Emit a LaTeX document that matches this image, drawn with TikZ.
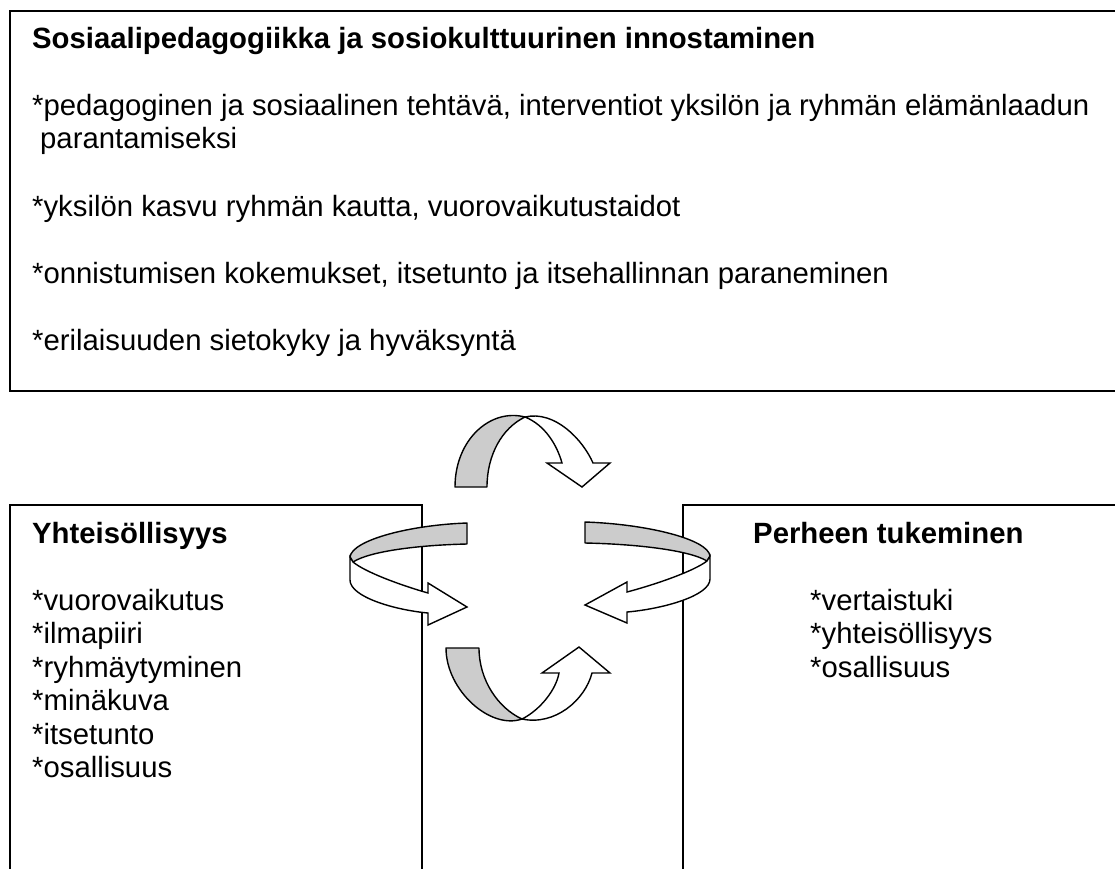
\documentclass[tikz,border=0pt]{standalone}
\usepackage{fontspec}
\setmainfont{Liberation Sans}
\usepackage[svgnames]{xcolor}
\newcommand{\bodysize}{\fontsize{29.3}{33.5}\selectfont}
\tikzset{
  box/.style={draw, line width=1.5pt},
  txt/.style={anchor=base west, inner sep=0pt, font=\bodysize},
  head/.style={txt, font=\bodysize\bfseries},
  back/.style={draw, fill=black!20, line width=1.4pt, line join=round},
  front/.style={draw, fill=white, line width=1.4pt, line join=miter}
}
\begin{document}
\begin{tikzpicture}[x=1pt,y=-1pt]
		\clip (0,0) rectangle (1115,868);
		\fill[white] (0,0) rectangle (1115,868);
		% boxes
		\draw[box, line width=2pt] (10,11) rectangle (1130,391);
		\draw[box] (10,505) rectangle (422,890);
		\draw[box] (683,505) rectangle (1130,890);
		% top box text
		\node[head] (title) at (32,48) {Sosiaalipedagogiikka ja sosiokulttuurinen innostaminen};
		\node[txt] (task) at (32,115) {*pedagoginen ja sosiaalinen tehtävä, interventiot yksilön ja ryhmän elämänlaadun};
		\node[txt] (task2) at (40,148) {parantamiseksi};
		\node[txt] (growth) at (32,216) {*yksilön kasvu ryhmän kautta, vuorovaikutustaidot};
		\node[txt] (success) at (32,283) {*onnistumisen kokemukset, itsetunto ja itsehallinnan paraneminen};
		\node[txt] (diverse) at (32,350) {*erilaisuuden sietokyky ja hyväksyntä};
		% left box
		\node[head] (comm) at (32,543) {Yhteisöllisyys};
		\foreach \t [count=\i from 0] in {vuorovaikutus,ilmapiiri,ryhmäytyminen,minäkuva,itsetunto,osallisuus}
			\node[txt] (comm\i) at (32,610+33.5*\i) {*\t};
		% right box
		\node[head] (family) at (753,543) {Perheen tukeminen};
		\foreach \t [count=\i from 0] in {vertaistuki,yhteisöllisyys,osallisuus}
			\node[txt] (family\i) at (810,610+33.5*\i) {*\t};
		% top arrow
		\draw[back] (455,487) -- (487,487) .. controls (487,455) and (502,428) .. (525,417)
			.. controls (490,408) and (455,440) .. (455,487) -- cycle;
		\draw[front] (525,417) .. controls (555,410) and (583,440) .. (593,463) -- (610,463) -- (582,487)
			-- (547,463) -- (562,463) .. controls (557,445) and (545,425) .. (525,417) -- cycle;
		% bottom arrow
		\draw[back] (446,648) -- (479,648) .. controls (479,680) and (498,708) .. (522,719)
			.. controls (490,730) and (446,690) .. (446,648) -- cycle;
		\draw[front] (522,719) .. controls (555,726) and (585,700) .. (592,673) -- (610,673) -- (579,647)
			-- (542,673) -- (559,673) .. controls (556,690) and (540,710) .. (522,719) -- cycle;
		% left arrow
		\draw[back] (467,523) -- (467,544) .. controls (420,545) and (370,551) .. (353,562)
			-- (350,557) .. controls (352,540) and (410,525) .. (467,523) -- cycle;
		\draw[front] (350,557) -- (350,580) .. controls (350,597) and (395,610) .. (428,613) -- (428,625)
			-- (467,607) -- (428,583) -- (428,593) .. controls (400,585) and (365,572) .. (353,562) -- cycle;
		% right arrow
		\draw[back] (585,522) -- (585,543) .. controls (635,544) and (689,550) .. (707,561)
			-- (710,556) .. controls (708,539) and (646,524) .. (585,522) -- cycle;
		\draw[front] (710,556) -- (710,579) .. controls (710,596) and (662,609) .. (627,612) -- (627,623)
			-- (585,605) -- (627,582) -- (627,592) .. controls (657,584) and (694,571) .. (707,561) -- cycle;
\end{tikzpicture}
\end{document}
